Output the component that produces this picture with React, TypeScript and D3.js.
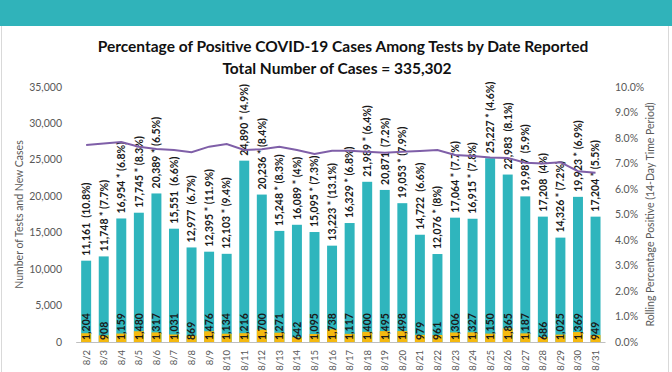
import React, { useEffect, useRef } from "react";
import * as d3 from "d3";

const dates = ["8/2","8/3","8/4","8/5","8/6","8/7","8/8","8/9","8/10","8/11","8/12","8/13","8/14","8/15","8/16","8/17","8/18","8/19","8/20","8/21","8/22","8/23","8/24","8/25","8/26","8/27","8/28","8/29","8/30","8/31"];
const tests = [11161,11748,16954,17745,20389,15551,12977,12395,12103,24890,20236,15248,16089,15095,13223,16329,21989,20871,19053,14722,12076,17064,16915,25227,22983,19987,17208,14326,19923,17204];
const cases = [1204,908,1159,1480,1317,1031,869,1476,1134,1216,1700,1271,642,1095,1738,1117,1400,1495,1498,979,961,1306,1327,1150,1865,1187,686,1025,1369,949];
const dailyPct = ["10.8%","7.7%","6.8%","8.3%","6.5%","6.6%","6.7%","11.9%","9.4%","4.9%","8.4%","8.3%","4%","7.3%","13.1%","6.8%","6.4%","7.2%","7.9%","6.6%","8%","7.7%","7.8%","4.6%","8.1%","5.9%","4%","7.2%","6.9%","5.5%"];
const starred = [false,true,true,true,true,false,false,true,true,true,true,true,true,true,true,true,true,false,true,false,true,true,true,true,false,false,false,true,true,true];
const rolling = [7.73,7.78,7.84,7.66,7.57,7.53,7.44,7.66,7.76,7.53,7.56,7.66,7.53,7.37,7.5,7.5,7.46,7.42,7.46,7.49,7.53,7.33,7.29,7.24,7.22,7.03,7.0,7.05,6.7,6.64];
const leftTicks = [0,5000,10000,15000,20000,25000,30000,35000];
const rightTicks = [0,1,2,3,4,5,6,7,8,9,10];

const W = 672, H = 372;
const FONT = "Lato, 'Open Sans', sans-serif";

export default function App() {
  const ref = useRef<SVGSVGElement>(null);
  useEffect(() => {
    const svg = d3.select(ref.current);
    svg.selectAll("*").remove();
    const x0 = 76.2, x1 = 605.5, yTop = 87, yBot = 342;
    const x = d3.scaleBand().domain(dates).range([x0, x1]).paddingInner(0.433).paddingOuter(0.2835);
    const y = d3.scaleLinear().domain([0, 35000]).range([yBot, yTop]);
    const y2 = d3.scaleLinear().domain([0, 10]).range([yBot, yTop]);
    const fmt = d3.format(",");

    svg.append("rect").attr("x", 0).attr("y", 0).attr("width", W).attr("height", H).attr("fill", "#fff");
    svg.append("rect").attr("x", 0).attr("y", 0).attr("width", W).attr("height", 26).attr("fill", "#30b3ba");
    svg.append("line").attr("x1", 1.5).attr("x2", 1.5).attr("y1", 26).attr("y2", H).attr("stroke", "#d9d9d9");
    svg.append("line").attr("x1", 668.5).attr("x2", 668.5).attr("y1", 26).attr("y2", H).attr("stroke", "#d9d9d9");

    svg.append("text").attr("x", 343).attr("y", 52).attr("text-anchor", "middle")
      .attr("font-family", FONT).attr("font-weight", "bold").attr("font-size", 15.5).attr("fill", "#111")
      .text("Percentage of Positive COVID-19 Cases Among Tests by Date Reported");
    svg.append("text").attr("x", 337).attr("y", 74).attr("text-anchor", "middle")
      .attr("font-family", FONT).attr("font-weight", "bold").attr("font-size", 15.5).attr("fill", "#111")
      .text("Total Number of Cases = 335,302");

    svg.append("g").selectAll("text").data(leftTicks).join("text")
      .attr("x", 62).attr("y", d => y(d) + 3.5).attr("text-anchor", "end")
      .attr("font-family", FONT).attr("font-size", 10.5).attr("fill", "#595959")
      .text(d => fmt(d));
    svg.append("g").selectAll("text").data(rightTicks).join("text")
      .attr("x", 615).attr("y", d => y2(d) + 3.5).attr("text-anchor", "start")
      .attr("font-family", FONT).attr("font-size", 10.5).attr("fill", "#595959")
      .text(d => d.toFixed(1) + "%");

    svg.append("text").attr("transform", `translate(23,${(yTop + yBot) / 2}) rotate(-90)`)
      .attr("text-anchor", "middle").attr("font-family", FONT).attr("font-size", 10.5).attr("fill", "#595959")
      .text("Number of Tests and New Cases");
    svg.append("text").attr("transform", `translate(654,${(yTop + yBot) / 2}) rotate(-90)`)
      .attr("text-anchor", "middle").attr("font-family", FONT).attr("font-size", 10.5).attr("fill", "#595959")
      .text("Rolling Percentage Positive (14-Day Time Period)");

    const bw = x.bandwidth();
    svg.append("g").selectAll("rect").data(dates).join("rect")
      .attr("x", d => x(d)!).attr("width", bw)
      .attr("y", (d, i) => y(tests[i])).attr("height", (d, i) => yBot - y(tests[i]))
      .attr("fill", "#2fb5bd");
    svg.append("g").selectAll("rect").data(dates).join("rect")
      .attr("x", d => x(d)!).attr("width", bw)
      .attr("y", (d, i) => y(cases[i])).attr("height", (d, i) => yBot - y(cases[i]))
      .attr("fill", "#f5b90f");

    svg.append("line").attr("x1", x0).attr("x2", x1).attr("y1", yBot + 0.5).attr("y2", yBot + 0.5)
      .attr("stroke", "#bfbfbf").attr("stroke-width", 1);

    svg.append("g").selectAll("text").data(dates).join("text")
      .attr("transform", (d, i) => `translate(${x(d)! + bw / 2 + 3.8},${yBot - 2}) rotate(-90)`)
      .attr("font-family", FONT).attr("font-weight", "bold").attr("font-size", 10.5).attr("fill", "#1a1a1a")
      .text((d, i) => fmt(cases[i]));
    svg.append("g").selectAll("text").data(dates).join("text")
      .attr("transform", (d, i) => `translate(${x(d)! + bw / 2 + 3.8},${y(tests[i]) - 5}) rotate(-90)`)
      .attr("font-family", FONT).attr("font-weight", "bold").attr("font-size", 10.5).attr("fill", "#1a1a1a")
      .attr("xml:space", "preserve")
      .text((d, i) => `${fmt(tests[i])}${starred[i] ? " * " : "  "}(${dailyPct[i]})`);

    svg.append("g").selectAll("text").data(dates).join("text")
      .attr("transform", d => `translate(${x(d)! + bw / 2 + 3.5},${yBot + 8}) rotate(-90)`)
      .attr("text-anchor", "end").attr("font-family", FONT).attr("font-size", 9.5).attr("fill", "#595959")
      .text(d => d);

    const line = d3.line<number>().x((d, i) => x(dates[i])! + bw / 2).y(d => y2(d));
    svg.append("path").datum(rolling).attr("d", line).attr("fill", "none")
      .attr("stroke", "#7f5fa8").attr("stroke-width", 2);
  }, []);
  return (
    <div style={{ position: "fixed", left: 0, top: 0 }}>
      <svg ref={ref} width={W} height={H} style={{ display: "block" }} />
    </div>
  );
}
